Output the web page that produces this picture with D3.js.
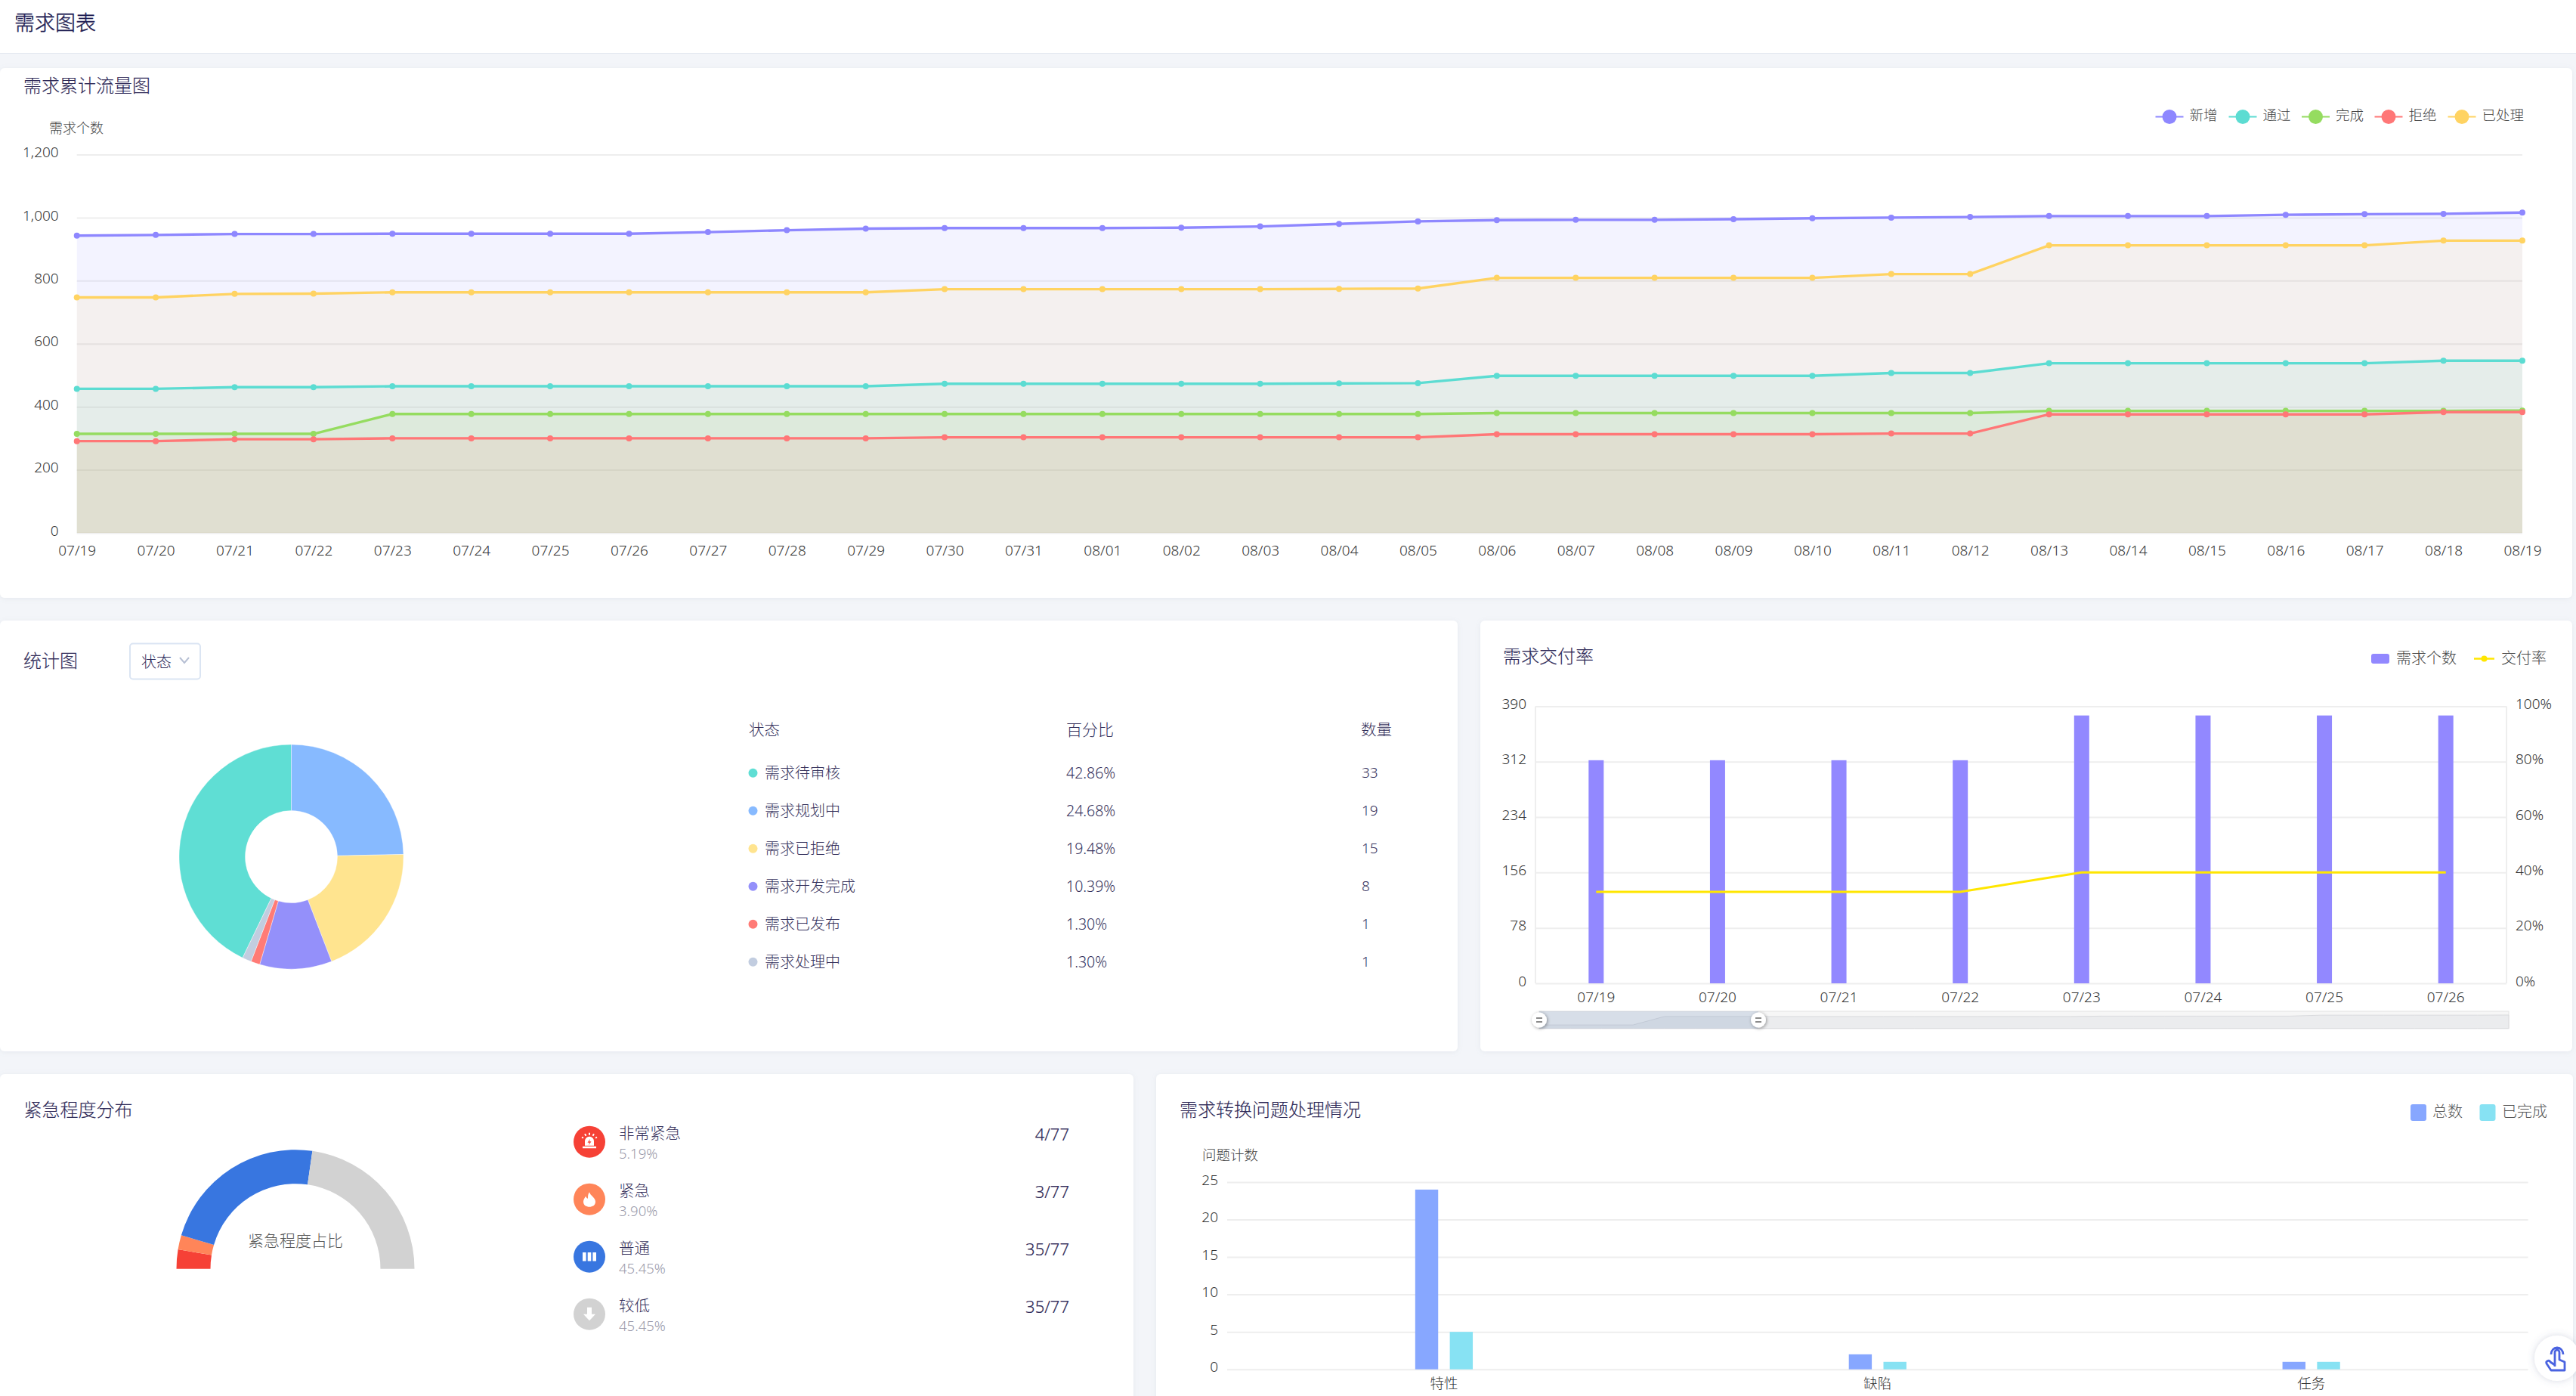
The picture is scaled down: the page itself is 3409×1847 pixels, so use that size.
<!DOCTYPE html>
<html lang="zh-CN">
<head>
<meta charset="utf-8">
<title>需求图表</title>
<script src="https://cdn.jsdelivr.net/npm/d3@7"></script>
<style>
html,body{margin:0;padding:0;background:#f3f5f9;overflow:hidden}
svg{display:block}
text{font-family:"Noto Sans","Noto Sans CJK SC",sans-serif;font-weight:300}
</style>
</head>
<body>
<svg id="c" width="3409" height="1847"></svg>
<script>
// ---------- data ----------
const flowDates = ["07/19","07/20","07/21","07/22","07/23","07/24","07/25","07/26","07/27","07/28","07/29","07/30","07/31","08/01","08/02","08/03","08/04","08/05","08/06","08/07","08/08","08/09","08/10","08/11","08/12","08/13","08/14","08/15","08/16","08/17","08/18","08/19"];
const flowAdded    = [943,945,948,948,949,949,949,949,954,960,965,967,967,967,968,972,980,988,992,993,993,995,998,1000,1002,1005,1005,1005,1009,1011,1012,1016];
const flowPassed   = [457,457,462,462,465,465,465,465,465,465,465,473,473,473,473,473,474,475,498,498,498,498,498,507,507,538,538,538,538,538,546,546];
const flowDone     = [314,314,314,314,377,377,377,377,377,377,377,377,377,377,377,377,377,377,380,380,380,380,380,380,380,387,387,387,387,387,387,388];
const flowRejected = [291,291,297,297,300,300,300,300,300,300,300,303,303,303,303,303,303,303,313,313,313,313,313,315,315,376,376,376,376,376,383,383];
const flowHandled  = [747,747,758,759,763,763,763,763,763,763,763,773,773,773,773,773,774,775,809,809,809,809,809,821,821,912,912,912,912,912,927,927];
const flowNames  = ["新增","通过","完成","拒绝","已处理"];
const flowColors = ["#8e87ff","#5cdcd2","#95dc60","#ff7777","#ffd362"];
const flowTicks  = [0,200,400,600,800,1000,1200];

const stateNames  = ["需求待审核","需求规划中","需求已拒绝","需求开发完成","需求已发布","需求处理中"];
const stateCounts = [33,19,15,8,1,1];
const statePct    = ["42.86%","24.68%","19.48%","10.39%","1.30%","1.30%"];
const stateColors = ["#5fded4","#87baff","#ffe48f","#9490fa","#ff7b76","#c2cde0"];

const rateDates  = ["07/19","07/20","07/21","07/22","07/23","07/24","07/25","07/26"];
const rateCounts = [314,314,314,314,377,377,377,377];
const rateValues = [33,33,33,33,40,40,40,40];
const rateLeftTicks  = [0,78,156,234,312,390];
const rateRightTicks = [0,20,40,60,80,100];

const urgencyNames  = ["非常紧急","紧急","普通","较低"];
const urgencyCounts = [4,3,35,35];
const urgencyPct    = ["5.19%","3.90%","45.45%","45.45%"];
const urgencyFrac   = ["4/77","3/77","35/77","35/77"];
const urgencyColors = ["#f64136","#ff8559","#3876e0","#d2d2d2"];

const issueKinds = ["特性","缺陷","任务"];
const issueTotal = [24,2,1];
const issueDone  = [5,1,1];
const issueTicks = [0,5,10,15,20,25];

// ---------- helpers ----------
const svg = d3.select("#c");
const TITLE="#2f2a58", BODY="#35315c", AXIS="#333", GRID="#eeeeee";

const defs = svg.append("defs");
const f = defs.append("filter").attr("id","soft").attr("x","-10%").attr("y","-10%").attr("width","120%").attr("height","120%");
f.append("feDropShadow").attr("dx",0).attr("dy",1).attr("stdDeviation",3).attr("flood-color","#8a94a8").attr("flood-opacity",.14);
const f2 = defs.append("filter").attr("id","hs").attr("x","-50%").attr("y","-50%").attr("width","200%").attr("height","200%");
f2.append("feDropShadow").attr("dx",1).attr("dy",1).attr("stdDeviation",2).attr("flood-color","#000").attr("flood-opacity",.4);
const f3 = defs.append("filter").attr("id","fb").attr("x","-50%").attr("y","-50%").attr("width","200%").attr("height","200%");
f3.append("feDropShadow").attr("dx",0).attr("dy",0).attr("stdDeviation",5).attr("flood-color","#5a6a90").attr("flood-opacity",.25);

function T(x,y,s,size,color,anchor,thick){
  const t=svg.append("text").attr("x",x).attr("y",y).attr("dy",".35em")
    .attr("font-size",size).attr("fill",color||BODY).attr("text-anchor",anchor||"start").text(s);
  if(thick) t.attr("stroke",color||BODY).attr("stroke-width",thick);
  return t;
}
function panel(x,y,w,h){
  svg.append("rect").attr("x",x).attr("y",y).attr("width",w).attr("height",h).attr("rx",6)
    .attr("fill","#fff").attr("filter","url(#soft)");
}
function styleAxis(g,size,tickDy){
  g.select(".domain").remove();
  g.selectAll("line").attr("stroke",GRID).attr("stroke-width",2);
  g.selectAll("text").attr("font-size",size).attr("fill",AXIS).attr("font-family",'"Noto Sans","Noto Sans CJK SC",sans-serif');
  if(tickDy) g.selectAll("text").attr("transform",`translate(0,${tickDy})`);
}

// ---------- page chrome ----------
svg.append("rect").attr("width",3409).attr("height",1847).attr("fill","#f3f5f9");
svg.append("rect").attr("width",3409).attr("height",71).attr("fill","#fff");
svg.append("line").attr("x1",0).attr("x2",3409).attr("y1",70.5).attr("y2",70.5).attr("stroke","#e2e7ef").attr("stroke-width",1);
T(19,30.5,"需求图表",27,"#1e1c52","start",.4);

panel(0,90,3404,701);
panel(0,821,1929,570);
panel(1959,821,1445,570);
panel(0,1421,1500,460);
panel(1530,1421,1875,460);

// ---------- cumulative flow ----------
T(31,114,"需求累计流量图",24,TITLE,"start",.15);
T(65,170,"需求个数",18,"#444");
(function(){
  const x = d3.scalePoint().domain(flowDates).range([101.7,3338]);
  const y = d3.scaleLinear().domain([0,1200]).range([705,204.5]);
  const gy = svg.append("g").attr("transform","translate(101.7,0)")
    .call(d3.axisLeft(y).tickValues(flowTicks).tickSize(-(3338-101.7)).tickPadding(24).tickFormat(d3.format(",")));
  styleAxis(gy,19,-3);
  const gx = svg.append("g").attr("transform","translate(0,705)")
    .call(d3.axisBottom(x).tickSize(0).tickPadding(17));
  styleAxis(gx,19);
  const series=[flowAdded,flowPassed,flowDone,flowRejected,flowHandled];
  series.forEach((vals,i)=>{
    const pts=vals.map((v,k)=>[flowDates[k],v]);
    svg.append("path").attr("d",d3.area().x(d=>x(d[0])).y0(y(0)).y1(d=>y(d[1]))(pts))
      .attr("fill",flowColors[i]).attr("fill-opacity",.1);
  });
  series.forEach((vals,i)=>{
    const pts=vals.map((v,k)=>[flowDates[k],v]);
    svg.append("path").attr("d",d3.line().x(d=>x(d[0])).y(d=>y(d[1]))(pts))
      .attr("fill","none").attr("stroke",flowColors[i]).attr("stroke-width",3.4);
    svg.append("g").selectAll("circle").data(pts).join("circle")
      .attr("cx",d=>x(d[0])).attr("cy",d=>y(d[1])).attr("r",4).attr("fill",flowColors[i]);
  });
  // legend
  const lx=[2852.5,2949.5,3046,3142.5,3239.5];
  flowNames.forEach((n,i)=>{
    svg.append("line").attr("x1",lx[i]).attr("x2",lx[i]+37).attr("y1",154.5).attr("y2",154.5)
      .attr("stroke",flowColors[i]).attr("stroke-width",2);
    svg.append("circle").attr("cx",lx[i]+18.5).attr("cy",154.5).attr("r",9.5).attr("fill",flowColors[i]);
    T(lx[i]+45,152.5,n,18.5,"#444");
  });
})();

// ---------- status donut ----------
T(31,875,"统计图",24,TITLE,"start",.15);
svg.append("rect").attr("x",172).attr("y",851.5).attr("width",93).attr("height",47).attr("rx",4)
  .attr("fill","#fff").attr("stroke","#dbe5f3").attr("stroke-width",2);
T(187,875.5,"状态",20,"#2c2a5a");
svg.append("path").attr("d","M238,870 L244,877 L250,870").attr("fill","none").attr("stroke","#b7c0d4").attr("stroke-width",2);
(function(){
  const total=d3.sum(stateCounts), start=-(stateCounts[0]/total)*2*Math.PI;
  const pie=d3.pie().sort(null).startAngle(start).endAngle(start+2*Math.PI)(stateCounts);
  const arc=d3.arc().innerRadius(61).outerRadius(148.5);
  svg.append("g").attr("transform","translate(385.5,1133.5)").selectAll("path").data(pie).join("path")
    .attr("d",arc).attr("fill",(d,i)=>stateColors[i]).attr("stroke","#fff").attr("stroke-width",.4);
  T(991,965.5,"状态",20.5,BODY); T(1411,965.5,"百分比",21,BODY); T(1801,965.5,"数量",20.5,BODY);
  stateNames.forEach((n,i)=>{
    const yy=1022.7+50*i;
    svg.append("circle").attr("cx",996.5).attr("cy",yy).attr("r",6).attr("fill",stateColors[i]);
    T(1012,yy,n,20,BODY); T(1411,yy,statePct[i],19.5,BODY); T(1802,yy,stateCounts[i],19,BODY);
  });
})();

// ---------- delivery rate ----------
T(1989,868.5,"需求交付率",24,TITLE,"start",.15);
(function(){
  const L=2032,R=3317,TOP=934.4,BOT=1301;
  const x=d3.scaleBand().domain(rateDates).range([L,R]);
  const yl=d3.scaleLinear().domain([0,390]).range([BOT,TOP]);
  const yr=d3.scaleLinear().domain([0,100]).range([BOT,TOP]);
  const gl=svg.append("g").attr("transform",`translate(${L},0)`)
    .call(d3.axisLeft(yl).tickValues(rateLeftTicks).tickSize(-(R-L)).tickPadding(12));
  styleAxis(gl,19,-3);
  const gr=svg.append("g").attr("transform",`translate(${R},0)`)
    .call(d3.axisRight(yr).tickValues(rateRightTicks).tickSize(0).tickPadding(12).tickFormat(d=>d+"%"));
  styleAxis(gr,19,-3);
  svg.append("line").attr("x1",L).attr("x2",L).attr("y1",TOP).attr("y2",BOT).attr("stroke",GRID).attr("stroke-width",2);
  svg.append("line").attr("x1",R).attr("x2",R).attr("y1",TOP).attr("y2",BOT).attr("stroke",GRID).attr("stroke-width",2);
  const gx=svg.append("g").attr("transform",`translate(0,${BOT})`).call(d3.axisBottom(x).tickSize(0).tickPadding(12));
  styleAxis(gx,19);
  const bw=20;
  svg.append("g").selectAll("rect").data(rateDates).join("rect")
    .attr("x",d=>x(d)+x.bandwidth()/2-bw/2).attr("width",bw)
    .attr("y",(d,i)=>yl(rateCounts[i])).attr("height",(d,i)=>BOT-yl(rateCounts[i])).attr("fill","#9288ff");
  svg.append("path").datum(rateValues.map((v,i)=>[rateDates[i],v]))
    .attr("d",d3.line().x(d=>x(d[0])+x.bandwidth()/2).y(d=>yr(d[1])))
    .attr("fill","none").attr("stroke","#ffe600").attr("stroke-width",3);
  // legend
  svg.append("rect").attr("x",3138).attr("y",865).attr("width",24).attr("height",13).attr("rx",3).attr("fill","#9288ff");
  T(3171,870.5,"需求个数",20,"#444");
  svg.append("line").attr("x1",3274).attr("x2",3301).attr("y1",871.5).attr("y2",871.5).attr("stroke","#ffe600").attr("stroke-width",2.5);
  svg.append("circle").attr("cx",3287.5).attr("cy",871.5).attr("r",4).attr("fill","#ffe600");
  T(3310,870.5,"交付率",20,"#444");
  // data-zoom slider, its shadow follows the full 32-day series
  const sx=d3.scalePoint().domain(flowDates).range([2037,3320]);
  const sy=d3.scaleLinear().domain([288,416]).range([1360.7,1338]);
  svg.append("rect").attr("x",2037).attr("y",1338).attr("width",1283).attr("height",22.7).attr("fill","#f6f6f6").attr("stroke","#e2e2e2").attr("stroke-width",1);
  svg.append("path").datum(flowDone.map((v,i)=>[flowDates[i],v]))
    .attr("d",d3.area().x(d=>sx(d[0])).y0(1360.7).y1(d=>sy(d[1])))
    .attr("fill","#ebecee").attr("stroke","#d9dadd").attr("stroke-width",1);
  svg.append("rect").attr("x",2037).attr("y",1338).attr("width",290).attr("height",22.7).attr("fill","#8aa0c4").attr("fill-opacity",.28);
  [2037,2327].forEach(cx=>{
    svg.append("circle").attr("cx",cx).attr("cy",1349.5).attr("r",10).attr("fill","#fff").attr("filter","url(#hs)");
    svg.append("path").attr("d",`M${cx-4},1347 h8 M${cx-4},1352 h8`).attr("stroke","#666").attr("stroke-width",1.5);
  });
})();

// ---------- urgency gauge ----------
T(31.5,1469,"紧急程度分布",24,TITLE,"start",.15);
(function(){
  const pie=d3.pie().sort(null).startAngle(-Math.PI/2).endAngle(Math.PI/2)(urgencyCounts);
  const arc=d3.arc().innerRadius(112.5).outerRadius(157.5);
  svg.append("g").attr("transform","translate(391,1678.7)").selectAll("path").data(pie).join("path")
    .attr("d",arc).attr("fill",(d,i)=>urgencyColors[i]);
  T(391,1642,"紧急程度占比",21,"#555","middle");
  const glyph=[
    g=>{ g.append("path").attr("d","M-6,5 V-1 A6,6 0 0 1 6,-1 V5 Z M-9,6 H9 V8.5 H-9 Z").attr("fill","#fff");
         g.append("path").attr("d","M1,-4 L-2.5,1 H0 L-1,4.5 L2.5,-0.5 H0 Z").attr("fill","#f64136");
         g.append("path").attr("d","M0,-12 V-9 M-6,-10.5 L-4.5,-8 M6,-10.5 L4.5,-8 M-10,-6 L-8,-5 M10,-6 L8,-5").attr("stroke","#fff").attr("stroke-width",2); },
    g=>{ g.append("path").attr("d","M0,-9.5 C1,-5 8,-2 8,3 C8,8 4,10 0,10 C-4,10 -8,8 -8,3 C-8,0 -6,-2 -5,-4 C-4,-2 -3,-1 -2,-1 C-2,-4 -2,-7 0,-9.5 Z").attr("fill","#fff"); },
    g=>{ g.append("path").attr("d","M-9,-5.7 h4.6 v11.4 h-4.6 Z M-2.3,-5.7 h4.6 v11.4 h-4.6 Z M4.4,-5.7 h4.6 v11.4 h-4.6 Z").attr("fill","#fff"); },
    g=>{ g.append("path").attr("d","M-3,-9 H3 V0 H8 L0,8.5 L-8,0 H-3 Z").attr("fill","#fff"); }
  ];
  urgencyNames.forEach((n,i)=>{
    const cy=1510.7+76*i;
    svg.append("circle").attr("cx",780).attr("cy",cy).attr("r",21).attr("fill",urgencyColors[i]);
    glyph[i](svg.append("g").attr("transform",`translate(780,${cy})`));
    T(819,cy-10.5,n,20.5,BODY);
    T(819,cy+16,urgencyPct[i],18.5,"#9a9aaa");
    T(1415,cy-9.5,urgencyFrac[i],22,"#2f2a58","end",.2);
  });
})();

// ---------- issue bars ----------
T(1561,1469,"需求转换问题处理情况",24,TITLE,"start",.15);
(function(){
  const L=1624,R=3345.6,TOP=1564,BOT=1811.7;
  const x=d3.scaleBand().domain(issueKinds).range([L,R]);
  const y=d3.scaleLinear().domain([0,25]).range([BOT,TOP]);
  const gy=svg.append("g").attr("transform",`translate(${L},0)`)
    .call(d3.axisLeft(y).tickValues(issueTicks).tickSize(-(R-L)).tickPadding(12));
  styleAxis(gy,19,-3);
  const gx=svg.append("g").attr("transform",`translate(0,${BOT})`).call(d3.axisBottom(x).tickSize(0).tickPadding(12));
  styleAxis(gx,18.5);
  T(1591,1529,"问题计数",18.5,"#444");
  const bw=30.4,gap=15.4;
  svg.append("g").selectAll("rect").data(issueKinds).join("rect")
    .attr("x",d=>x(d)+x.bandwidth()/2-bw-gap/2).attr("width",bw)
    .attr("y",(d,i)=>y(issueTotal[i])).attr("height",(d,i)=>BOT-y(issueTotal[i])).attr("fill","#87a7ff");
  svg.append("g").selectAll("rect").data(issueKinds).join("rect")
    .attr("x",d=>x(d)+x.bandwidth()/2+gap/2).attr("width",bw)
    .attr("y",(d,i)=>y(issueDone[i])).attr("height",(d,i)=>BOT-y(issueDone[i])).attr("fill","#87e2f3");
  svg.append("rect").attr("x",3190).attr("y",1461).attr("width",21).attr("height",22).attr("rx",3).attr("fill","#87a7ff");
  T(3219,1470.5,"总数",20,"#555");
  svg.append("rect").attr("x",3281.5).attr("y",1461).attr("width",21).attr("height",22).attr("rx",3).attr("fill","#87e2f3");
  T(3311,1470.5,"已完成",20,"#555");
})();

// ---------- floating help button ----------
svg.append("circle").attr("cx",3384).attr("cy",1797).attr("r",30).attr("fill","#fff").attr("filter","url(#fb)");
svg.append("path")
  .attr("d","M3381,1808 V1789 A3,3 0 0 1 3387,1789 V1799 L3394,1802 V1813 H3376 L3370,1804 A2,2 0 0 1 3375,1802 L3381,1806 M3376,1792 A8,9 0 0 1 3392,1792")
  .attr("fill","none").attr("stroke","#4a63e0").attr("stroke-width",2.8).attr("stroke-linejoin","round");
</script>
</body>
</html>
